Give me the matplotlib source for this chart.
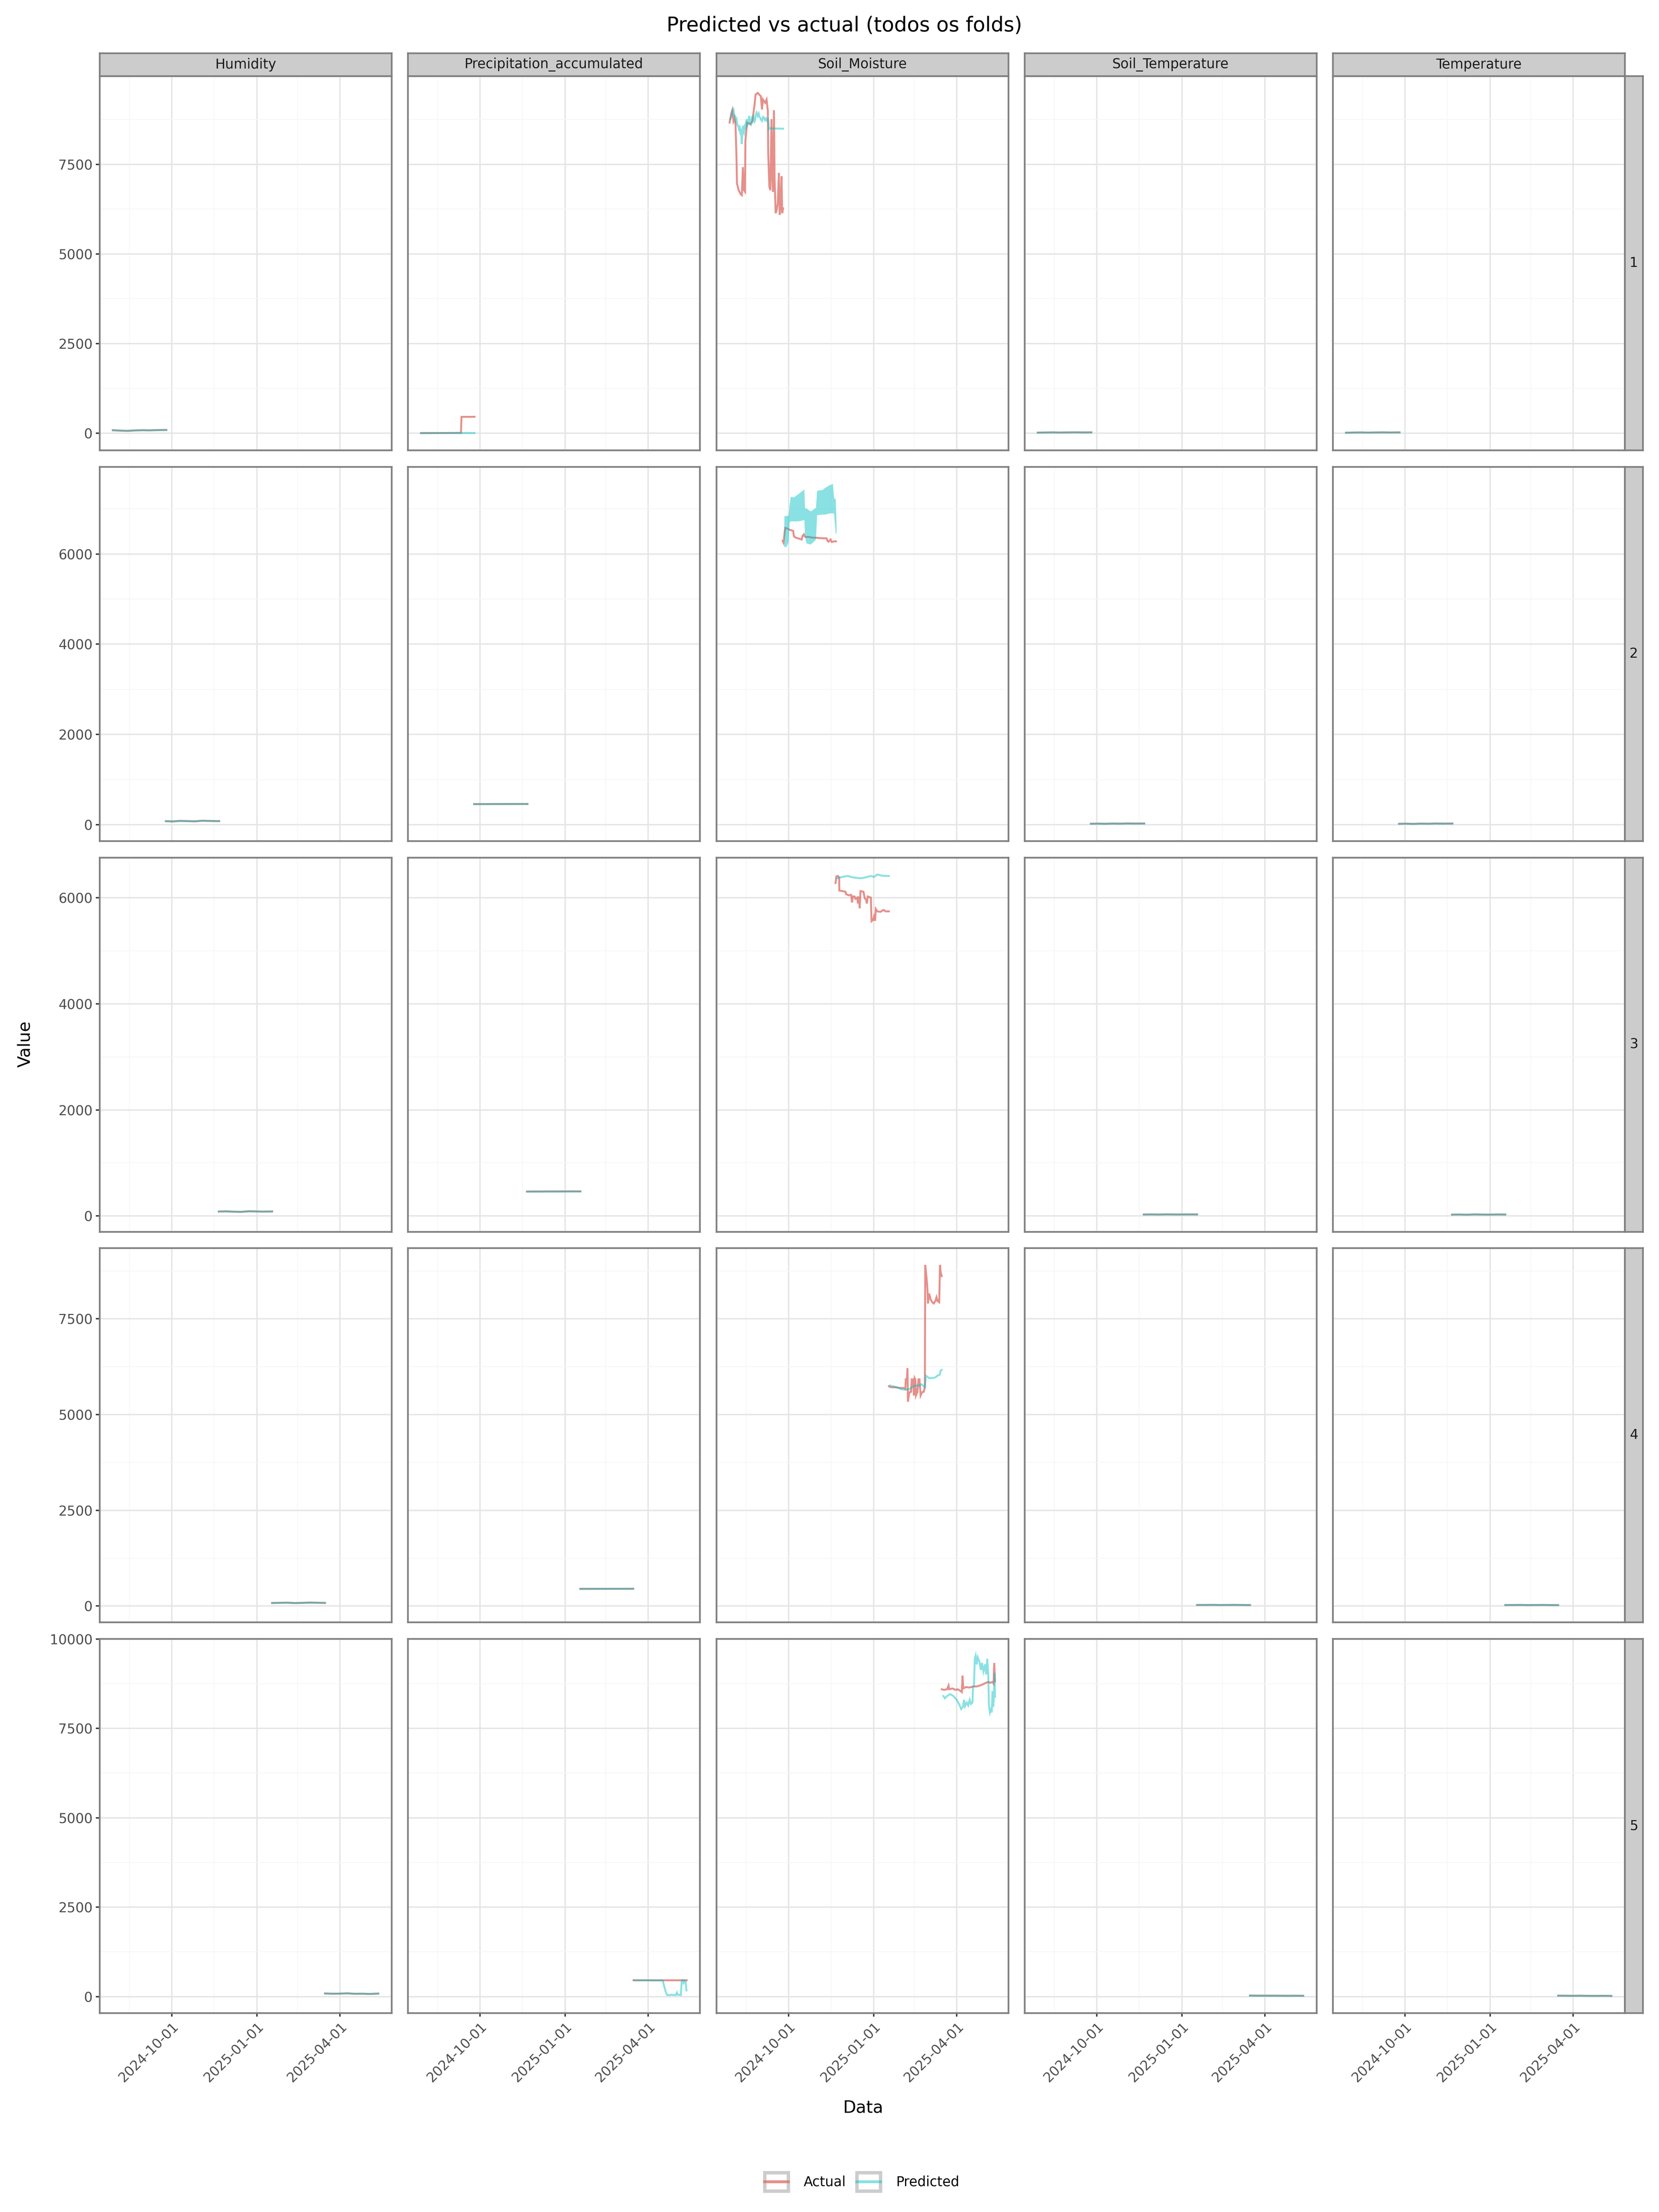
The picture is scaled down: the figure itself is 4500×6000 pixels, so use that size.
import numpy as np
import pandas as pd
import matplotlib
matplotlib.use("Agg")
import matplotlib.pyplot as plt
import matplotlib.dates as mdates
from matplotlib.ticker import MultipleLocator
from matplotlib.legend_handler import HandlerBase
from matplotlib.patches import Rectangle
from matplotlib.lines import Line2D

plt.rcParams["font.family"] = ["DejaVu Sans"]

# ---------------------------------------------------------------- data
ORIGIN = "2024-10-01"          # day offsets below are relative to this date
VARIABLES = ["Humidity", "Precipitation_accumulated", "Soil_Moisture",
             "Soil_Temperature", "Temperature"]
FOLDS = [1, 2, 3, 4, 5]
SERIES = ["Actual", "Predicted"]
X_BREAKS = ["2024-10-01", "2025-01-01", "2025-04-01"]
X_MINOR = ["2024-08-16", "2024-11-16", "2025-02-14"]
ROW_Y_STEP = [2500, 2000, 2000, 2500, 2500]

# sample days used for the slowly varying small variables, one list per fold
SMALL_DAYS = [
    [-63.8, -56.0, -48.0, -40.0, -32.0, -24.0, -16.0, -5.9],
    [-6.4, 1.0, 9.0, 17.0, 25.0, 33.0, 41.0, 51.3],
    [50.8, 59.0, 67.0, 75.0, 83.0, 91.0, 99.0, 108.5],
    [108.5, 117.0, 125.0, 133.0, 141.0, 149.0, 157.0, 165.7],
    [165.7, 174.0, 182.0, 190.0, 198.0, 206.0, 214.0, 223.3],
]

HUM_ACTUAL = [
    [82, 70, 64, 78, 85, 80, 88, 92],
    [78, 72, 86, 80, 74, 90, 84, 79],
    [84, 88, 80, 76, 90, 86, 82, 85],
    [80, 86, 90, 78, 84, 92, 88, 82],
    [86, 78, 82, 90, 75, 80, 70, 84],
]
HUM_PRED = [
    [85, 76, 68, 74, 82, 81, 84, 86],
    [80, 76, 82, 80, 78, 85, 83, 80],
    [83, 85, 82, 80, 86, 85, 83, 84],
    [82, 84, 86, 80, 84, 88, 86, 83],
    [84, 80, 80, 86, 78, 78, 74, 80],
]
TEMP_ACTUAL = [
    [14, 18, 22, 16, 20, 24, 19, 23],
    [20, 24, 18, 26, 22, 28, 25, 27],
    [26, 28, 24, 30, 27, 25, 29, 28],
    [27, 29, 31, 26, 28, 30, 27, 25],
    [24, 22, 20, 23, 19, 18, 21, 17],
]
TEMP_PRED = [
    [15, 18, 20, 17, 20, 22, 20, 22],
    [21, 23, 20, 24, 23, 26, 25, 26],
    [26, 27, 25, 28, 27, 26, 28, 27],
    [27, 28, 29, 27, 28, 29, 27, 26],
    [23, 22, 21, 22, 20, 19, 20, 18],
]
SOILT_ACTUAL = [
    [16, 19, 23, 18, 21, 25, 21, 24],
    [22, 25, 21, 27, 24, 29, 27, 28],
    [28, 30, 27, 31, 29, 28, 30, 29],
    [29, 30, 32, 28, 30, 31, 29, 27],
    [26, 24, 23, 24, 22, 21, 22, 20],
]
SOILT_PRED = [
    [17, 19, 22, 19, 21, 23, 22, 23],
    [23, 24, 22, 26, 25, 27, 26, 27],
    [28, 29, 28, 30, 29, 28, 29, 29],
    [29, 29, 30, 29, 29, 30, 28, 27],
    [25, 24, 23, 23, 22, 21, 22, 21],
]
PREC_ACTUAL = [
    [2, 3, 4, 5, 6, 8, 456, 458],
    [458, 458, 459, 460, 460, 460, 461, 461],
    [461, 462, 462, 463, 463, 464, 464, 464],
    [450, 450, 451, 451, 452, 452, 452, 453],
    [456, 456, 456, 456, 456, 456, 456, 456],
]
PREC_PRED = [
    [6, 6, 7, 6, 6, 7, 6, 6],
    [455, 456, 456, 457, 457, 458, 458, 458],
    [458, 459, 459, 460, 460, 460, 461, 461],
    [448, 449, 449, 450, 450, 450, 451, 451],
    None,  # fold 5 has its own detailed series below
]
PREC1_ACTUAL_DAY = [-63.8, -56.0, -48.0, -40.0, -32.0, -20.6, -20.0, -5.9]
PREC5_PRED_DAY = [166.8, 175.0, 184.4, 190.0, 197.6, 199.2, 200.8, 202.4, 204.8,
                  207.0, 209.0, 211.5, 213.1, 213.8, 216.0, 217.2, 218.2, 219.0,
                  220.2, 221.2, 222.3, 223.3]
PREC5_PRED_VAL = [456, 454, 452, 451, 450, 290, 135, 41, 38, 52, 45, 40, 109, 50,
                  44, 40, 425, 450, 380, 448, 430, 170]

# Soil moisture, fold 1
SM1_ACT_DAY = [-63.8, -62.0, -60.9, -59.7, -58.6, -57.4, -56.3, -55.8, -54.0, -51.7,
               -50.6, -49.4, -48.3, -47.1, -46.7, -44.9, -41.4, -39.1, -36.8, -35.7,
               -33.4, -30.0, -28.8, -27.7, -25.4, -23.8, -22.4, -22.0, -20.8, -19.7,
               -18.5, -17.8, -16.9, -15.8, -15.1, -14.0, -12.8, -11.7, -10.5, -9.6,
               -8.7, -7.6, -6.9, -5.9]
SM1_ACT_VAL = [8663, 8915, 9008, 8709, 8800, 8617, 7650, 6962, 6778, 6664,
               6640, 7422, 6778, 6732, 8157, 8663, 8617, 8709, 9168, 9444,
               9490, 9398, 9030, 9306, 9214, 9306, 8985, 7790, 6870, 6778,
               8755, 7330, 6732, 9008, 7100, 6135, 6227, 6410, 7261, 6089,
               6319, 7169, 6135, 6273]
SM1_PRED_DAY = [-63.2, -61.5, -60.9, -59.7, -58.9, -58.1, -57.2, -56.3, -55.4, -54.5,
                -53.7, -52.9, -52.3, -51.7, -51.1, -50.6, -50.0, -49.4, -48.8, -48.3,
                -47.5, -46.7, -46.0, -45.3, -44.5, -43.7, -43.1, -42.6, -41.6, -40.7,
                -39.9, -39.1, -38.3, -37.5, -36.8, -36.2, -35.4, -34.6, -33.4, -32.3,
                -31.5, -30.7, -29.7, -28.8, -27.6, -26.5, -25.4, -24.3, -23.3, -22.4,
                -21.9, -21.5, -20.6, -19.7, -5.9]
SM1_PRED_VAL = [8755, 8850, 8985, 9030, 8900, 8847, 8700, 8755, 8600, 8571,
                8480, 8525, 8400, 8433, 8300, 8065, 8350, 8571, 8420, 8387,
                8560, 8525, 8680, 8755, 8600, 8663, 8780, 8847, 8650, 8617,
                8760, 8709, 8830, 8800, 8700, 8731, 8880, 8939, 8850, 8915,
                8820, 8800, 8740, 8709, 8820, 8800, 8730, 8777, 8720, 8755,
                8700, 8479, 8510, 8502, 8493]

# Soil moisture, fold 2 (prediction oscillates within a band)
SM2_ACT_DAY = [-6.4, -5.5, -3.7, -1.4, 0.9, 3.2, 5.0, 5.5, 5.9, 7.8,
               10.1, 12.4, 14.2, 15.1, 16.5, 17.4, 19.2, 21.5, 23.8, 26.1,
               29.5, 33.0, 37.5, 41.0, 42.1, 43.2, 45.5, 46.7, 49.0, 51.3]
SM2_ACT_VAL = [6293, 6253, 6579, 6565, 6538, 6524, 6511, 6429, 6389, 6361,
               6348, 6334, 6321, 6402, 6435, 6389, 6375, 6380, 6370, 6361,
               6361, 6353, 6348, 6348, 6293, 6272, 6321, 6266, 6280, 6280]
SM2_PRED_DAY = [-4.8, -2.5, -0.2, 0.9, 2.1, 5.5, 10.1, 13.5, 16.9, 17.6, 19.2,
                23.8, 29.4, 30.7, 36.4, 39.8, 44.4, 47.8, 49.0, 50.8, 51.7]
SM2_PRED_HIGH = [6837, 6850, 6850, 7081, 7271, 7258, 7326, 7380, 7435, 7013, 7013,
                 6946, 7027, 7407, 7421, 7475, 7530, 7557, 7244, 7217, 6701]
SM2_PRED_LOW = [6158, 6158, 6266, 6700, 6728, 6728, 6728, 6740, 6755, 6375, 6239,
                6212, 6321, 6864, 6878, 6878, 6905, 6905, 6890, 6456, 6456]

# Soil moisture, fold 3
SM3_ACT_DAY = [50.8, 51.7, 53.5, 54.7, 54.9, 58.1, 61.6, 62.2, 65.0, 67.7,
               68.6, 69.6, 71.4, 72.3, 74.1, 75.1, 76.0, 76.9, 77.8, 81.0,
               82.4, 83.8, 84.7, 85.6, 89.0, 89.7, 91.3, 92.4, 93.6, 94.3,
               95.9, 99.3, 102.7, 105.0, 108.5]
SM3_ACT_VAL = [6276, 6400, 6409, 6378, 6133, 6124, 6111, 6067, 6044, 6053,
               5911, 6022, 6022, 5978, 6000, 5889, 6022, 5800, 6124, 6111,
               5991, 5956, 5889, 6022, 6000, 5556, 5578, 5644, 5564, 5787,
               5742, 5733, 5769, 5742, 5742]
SM3_PRED_DAY = [52.4, 58.1, 63.8, 69.6, 77.6, 83.3, 89.0, 92.4, 95.9, 101.6, 108.5]
SM3_PRED_VAL = [6364, 6391, 6409, 6382, 6364, 6382, 6409, 6391, 6436, 6413, 6409]

# Soil moisture, fold 4
SM4_ACT_DAY = [108.5, 110.8, 115.3, 119.9, 124.5, 126.3, 126.8, 127.9, 128.6, 129.1,
               130.2, 131.4, 132.5, 133.2, 134.8, 135.5, 136.4, 137.1, 137.8, 139.4,
               140.5, 141.6, 142.8, 143.9, 145.1, 146.2, 147.4, 147.8, 149.2, 150.1,
               150.8, 152.0, 153.8, 155.4, 157.0, 158.8, 160.0, 161.1, 162.9, 163.8,
               164.5, 165.7]
SM4_ACT_VAL = [5740, 5714, 5714, 5695, 5695, 5675, 5922, 5922, 6214, 5338,
               5532, 5597, 5597, 5922, 5922, 5500, 5954, 5922, 5500, 5597,
               5922, 5922, 5500, 5560, 5597, 5597, 5727, 8909, 8585, 8325,
               7903, 8162, 8000, 7935, 7903, 7968, 8065, 7968, 7935, 8909,
               8714, 8617]
SM4_PRED_DAY = [109.6, 113.0, 117.6, 122.2, 126.8, 131.4, 134.8, 138.2, 141.6, 143.9,
                146.2, 147.4, 148.5, 152.0, 155.4, 158.8, 161.1, 163.4, 164.5, 165.7]
SM4_PRED_VAL = [5760, 5740, 5714, 5662, 5649, 5675, 5740, 5760, 5760, 5792,
                5740, 5714, 6019, 5954, 5954, 5974, 6019, 6039, 6149, 6169]

# Soil moisture, fold 5
SM5_ACT_DAY = [165.7, 168.0, 171.4, 173.0, 173.7, 177.1, 180.5, 182.8, 185.1, 187.4,
               188.1, 189.0, 192.0, 195.4, 197.7, 200.0, 203.4, 206.9, 210.3, 213.7,
               216.0, 218.3, 220.6, 221.7, 222.4, 223.3]
SM5_ACT_VAL = [8592, 8576, 8592, 8695, 8592, 8615, 8576, 8592, 8560, 8513,
               8971, 8615, 8655, 8640, 8655, 8671, 8671, 8695, 8734, 8774,
               8797, 8774, 8797, 8750, 9327, 8813]
SM5_PRED_DAY = [167.5, 169.1, 171.4, 174.8, 178.3, 181.7, 184.4, 186.7, 188.6, 189.7,
                190.8, 192.7, 194.3, 195.9, 197.3, 198.9, 199.5, 200.5, 201.4, 202.3,
                203.4, 204.6, 206.4, 208.0, 209.2, 210.8, 212.6, 213.7, 214.9, 216.0,
                216.7, 217.8, 218.8, 219.7, 220.6, 221.5, 222.4, 222.9, 223.3]
SM5_PRED_VAL = [8402, 8339, 8402, 8457, 8402, 8299, 8180, 8038, 8101, 8299,
                8117, 8220, 8140, 8299, 8180, 8220, 8655, 8695, 9446, 9530,
                9288, 9486, 9367, 9130, 9330, 9090, 9290, 9011, 9446, 8971,
                8141, 7943, 8020, 7943, 8536, 8101, 8655, 9050, 8378]

# ---------------------------------------------------------------- assemble
origin = pd.Timestamp(ORIGIN)


def to_dates(days):
    return origin + pd.to_timedelta(np.asarray(days, dtype=float), unit="D")


lines = {}   # (variable, fold, series) -> (days, values)
bands = {}   # (variable, fold, series) -> (days, low, high)
small = {"Humidity": (HUM_ACTUAL, HUM_PRED),
         "Temperature": (TEMP_ACTUAL, TEMP_PRED),
         "Soil_Temperature": (SOILT_ACTUAL, SOILT_PRED),
         "Precipitation_accumulated": (PREC_ACTUAL, PREC_PRED)}
for var, (act, pred) in small.items():
    for i, f in enumerate(FOLDS):
        days = SMALL_DAYS[i]
        if var == "Precipitation_accumulated" and f == 1:
            lines[(var, f, "Actual")] = (PREC1_ACTUAL_DAY, act[i])
        else:
            lines[(var, f, "Actual")] = (days, act[i])
        if pred[i] is None:
            lines[(var, f, "Predicted")] = (PREC5_PRED_DAY, PREC5_PRED_VAL)
        else:
            lines[(var, f, "Predicted")] = (days, pred[i])

sm = "Soil_Moisture"
lines[(sm, 1, "Actual")] = (SM1_ACT_DAY, SM1_ACT_VAL)
lines[(sm, 1, "Predicted")] = (SM1_PRED_DAY, SM1_PRED_VAL)
lines[(sm, 2, "Actual")] = (SM2_ACT_DAY, SM2_ACT_VAL)
bands[(sm, 2, "Predicted")] = (SM2_PRED_DAY, SM2_PRED_LOW, SM2_PRED_HIGH)
lines[(sm, 3, "Actual")] = (SM3_ACT_DAY, SM3_ACT_VAL)
lines[(sm, 3, "Predicted")] = (SM3_PRED_DAY, SM3_PRED_VAL)
lines[(sm, 4, "Actual")] = (SM4_ACT_DAY, SM4_ACT_VAL)
lines[(sm, 4, "Predicted")] = (SM4_PRED_DAY, SM4_PRED_VAL)
lines[(sm, 5, "Actual")] = (SM5_ACT_DAY, SM5_ACT_VAL)
lines[(sm, 5, "Predicted")] = (SM5_PRED_DAY, SM5_PRED_VAL)

# ---------------------------------------------------------------- style
COLORS = {"Actual": "#DF746E", "Predicted": "#00BFC4"}
ALPHAS = {"Actual": 0.8, "Predicted": 0.46}
LW = 1.25
BORDER = "#7F7F7F"
STRIP_BG = "#CCCCCC"

W, H = 4500, 6000
fig = plt.figure(figsize=(15, 20), dpi=300)
fig.patch.set_facecolor("white")

COL_LEFT = [270, 1106, 1943, 2779, 3615]
PANEL_W = 792
ROW_TOP = [206, 1266, 2326, 3385, 4445]
PANEL_H = 1015
STRIP_H = 62
RSTRIP_W = 49


def rect(left, top, width, height):
    return [left / W, 1 - (top + height) / H, width / W, height / H]


# shared x limits (5% expansion)
all_days = np.concatenate([np.asarray(v[0], float) for v in lines.values()] +
                          [np.asarray(v[0], float) for v in bands.values()])
dmin, dmax = all_days.min(), all_days.max()
dpad = 0.05 * (dmax - dmin)
xlim = mdates.date2num(to_dates([dmin - dpad, dmax + dpad]))

# per-row y limits (5% expansion)
row_lims = []
for f in FOLDS:
    vals = []
    for (var, ff, s), (d, v) in lines.items():
        if ff == f:
            vals.extend(v)
    for (var, ff, s), (d, lo, hi) in bands.items():
        if ff == f:
            vals.extend(lo)
            vals.extend(hi)
    vmin, vmax = min(vals), max(vals)
    pad = 0.05 * (vmax - vmin)
    row_lims.append((vmin - pad, vmax + pad))

for r, f in enumerate(FOLDS):
    for c, var in enumerate(VARIABLES):
        ax = fig.add_axes(rect(COL_LEFT[c], ROW_TOP[r], PANEL_W, PANEL_H))
        ax.set_facecolor("white")
        for s in SERIES:
            key = (var, f, s)
            if key in lines:
                d, v = lines[key]
                ax.plot(mdates.date2num(to_dates(d)), v, color=COLORS[s],
                        alpha=ALPHAS[s], lw=LW, solid_joinstyle="miter", zorder=3)
            if key in bands:
                d, lo, hi = bands[key]
                ax.fill_between(mdates.date2num(to_dates(d)), lo, hi,
                                color=COLORS[s], alpha=ALPHAS[s], lw=0, zorder=3)
        ax.set_xlim(xlim)
        ax.set_ylim(row_lims[r])
        ax.set_xticks(mdates.date2num(pd.to_datetime(X_BREAKS)))
        ax.set_xticks(mdates.date2num(pd.to_datetime(X_MINOR)), minor=True)
        ax.yaxis.set_major_locator(MultipleLocator(ROW_Y_STEP[r]))
        ax.yaxis.set_minor_locator(MultipleLocator(ROW_Y_STEP[r] / 2))
        ax.set_axisbelow(True)
        ax.grid(which="major", color="#E5E5E5", lw=0.9)
        ax.grid(which="minor", color="#F6F6F6", lw=0.5)
        for sp in ax.spines.values():
            sp.set_color(BORDER)
            sp.set_linewidth(1.1)
            sp.set_zorder(5)
        ax.tick_params(which="minor", length=0)
        ax.tick_params(which="major", length=2.5, width=0.9, color="#333333",
                       labelsize=8.8, labelcolor="#4D4D4D", pad=2)
        if c == 0:
            ax.set_yticklabels([f"{t:g}" for t in ax.get_yticks()])
        else:
            ax.tick_params(axis="y", left=False, labelleft=False)
        if r == len(FOLDS) - 1:
            ax.set_xticklabels(X_BREAKS, rotation=45, ha="right",
                               rotation_mode="anchor")
        else:
            ax.tick_params(axis="x", bottom=False, labelbottom=False)

        # top strips
        if r == 0:
            sa = fig.add_axes(rect(COL_LEFT[c], ROW_TOP[0] - STRIP_H, PANEL_W, STRIP_H))
            sa.set_facecolor(STRIP_BG)
            sa.set_xticks([])
            sa.set_yticks([])
            for sp in sa.spines.values():
                sp.set_color(BORDER)
                sp.set_linewidth(1.1)
            sa.text(0.5, 0.5, var, ha="center", va="center", fontsize=8.8,
                    color="#1A1A1A", transform=sa.transAxes)
    # right strip
    ra = fig.add_axes(rect(COL_LEFT[-1] + PANEL_W, ROW_TOP[r], RSTRIP_W, PANEL_H))
    ra.set_facecolor(STRIP_BG)
    ra.set_xticks([])
    ra.set_yticks([])
    for sp in ra.spines.values():
        sp.set_color(BORDER)
        sp.set_linewidth(1.1)
    ra.text(0.5, 0.5, str(f), ha="center", va="center", fontsize=8.8,
            color="#1A1A1A", transform=ra.transAxes)

# titles
fig.text(0.509, 1 - 69 / H, "Predicted vs actual (todos os folds)", ha="center",
         va="center", fontsize=13.2, color="black")
fig.text(0.5204, 1 - 5718 / H, "Data", ha="center", va="center", fontsize=11)
fig.text(69 / W, 1 - 2832 / H, "Value", ha="center", va="center", fontsize=11,
         rotation=90)


# legend with boxed keys
class BoxLine(HandlerBase):
    def create_artists(self, legend, orig_handle, xdescent, ydescent, width,
                       height, fontsize, trans):
        box = Rectangle((-xdescent, -ydescent), width, height, fc="white",
                        ec="#CCCCCC", lw=2.2, transform=trans)
        ln = Line2D([-xdescent, -xdescent + width],
                    [-ydescent + height / 2] * 2, color=orig_handle.get_color(),
                    alpha=orig_handle.get_alpha(), lw=LW * 1.5, transform=trans)
        return [box, ln]


handles = [Line2D([], [], color=COLORS[s], alpha=ALPHAS[s]) for s in SERIES]
fig.legend(handles, SERIES, loc="center", bbox_to_anchor=(0.5196, 1 - 5918 / H),
           ncol=2, frameon=False, fontsize=8.8, handlelength=1.75,
           handleheight=1.7, handletextpad=1.15, columnspacing=0.8,
           handler_map={Line2D: BoxLine()})

fig.savefig("out.png", dpi=300, facecolor="white")
